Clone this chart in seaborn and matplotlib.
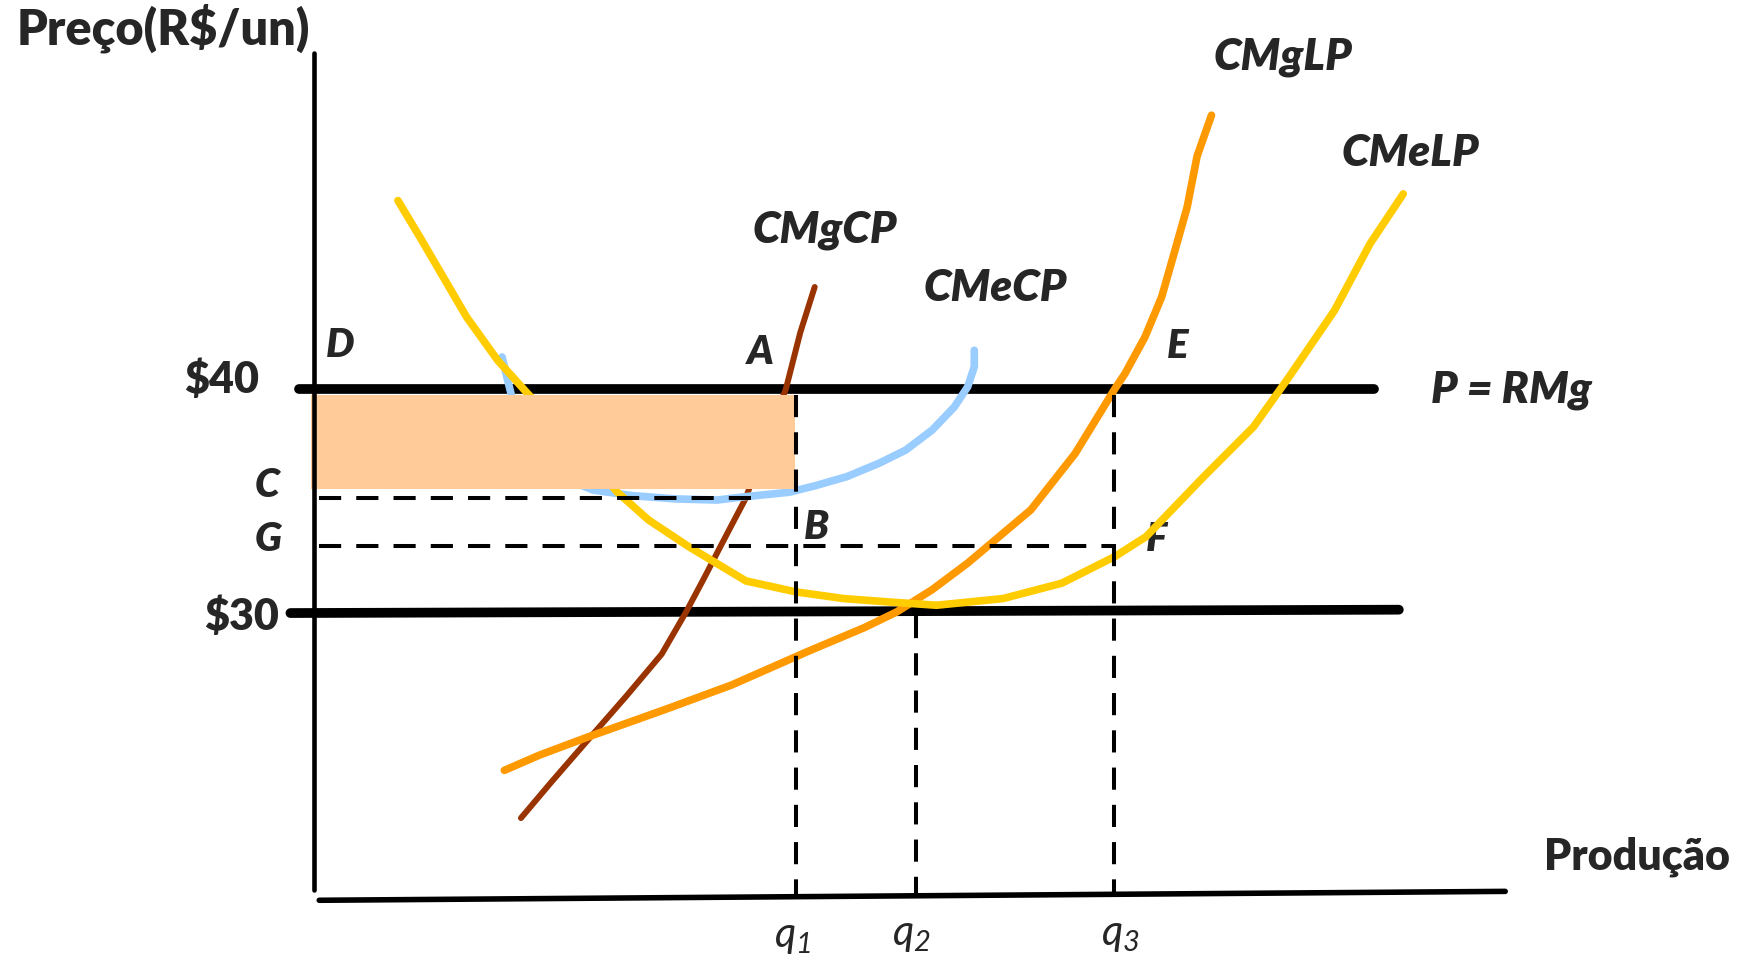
import numpy as np
import pandas as pd
import matplotlib.pyplot as plt
import seaborn as sns

# curves: quantity (q) and price (p)
cmgcp_q = [18.7, 21.4, 24.7, 28.2, 31.4, 33.6, 35.3, 36.7, 37.9, 39.0, 40.7, 42.6, 43.9, 45.2]
cmgcp_p = [20.75, 22.34, 24.23, 26.22, 28.11, 30.0, 31.59, 32.94, 34.08, 35.12, 37.56, 40.0, 42.54, 44.58]

cmecp_q = [17.0, 17.5, 17.8, 18.5, 19.9, 22.2, 25.2, 28.7, 32.7, 36.4, 38.9, 42.9, 45.3, 48.1,
           51.0, 53.4, 55.8, 57.8, 59.0, 59.6, 59.6]
cmecp_p = [41.44, 40.40, 39.80, 38.31, 37.06, 36.07, 35.47, 35.22, 35.07, 35.02, 35.17, 35.37, 35.67,
           36.07, 36.67, 37.26, 38.16, 39.20, 40.10, 41.00, 41.74]

cmglp_q = [17.2, 20.4, 24.7, 31.7, 37.7, 44.5, 49.7, 52.6, 55.8, 59.0, 64.7, 68.7, 72.2, 73.2,
           75.0, 76.5, 77.7, 78.8, 79.7, 81.0]
cmglp_p = [22.89, 23.58, 24.38, 25.62, 26.72, 28.21, 29.30, 30.0, 31.0, 32.19, 34.58, 37.11, 39.95,
           40.70, 42.34, 44.13, 46.22, 48.16, 50.45, 52.29]

cmelp_q = [7.6, 9.7, 13.8, 16.6, 19.3, 22.2, 24.7, 27.4, 30.2, 33.8, 39.0, 43.5, 47.8, 51.8, 56.2,
           62.2, 67.5, 72.3, 75.1, 80.3, 84.8, 88.0, 92.1, 95.3, 98.3]
cmelp_p = [48.46, 46.72, 43.23, 41.29, 39.80, 38.31, 36.92, 35.37, 34.13, 32.94, 31.39, 30.90, 30.60,
           30.45, 30.30, 30.60, 31.29, 32.49, 33.38, 36.07, 38.31, 40.55, 43.53, 46.52, 48.76]

# levels and quantities
price_hi = 40
price_lo = 30
c_level = 35.12
g_level = 32.94
q1, q2, q3 = 43.5, 54.3, 72.2
axis_bottom = 17.26
rect_q = [-0.2, 43.4]
rect_p = [35.52, 39.75]

curve_colors = {"cmgcp": "#993300", "cmecp": "#99CCFF", "cmglp": "#FF9900", "cmelp": "#FFCC00"}

sns.set_theme(style="white")
plt.rcParams['font.family'] = ['Lato', 'DejaVu Sans']
plt.rcParams['mathtext.fontset'] = 'custom'
plt.rcParams['mathtext.it'] = 'Lato:italic'
plt.rcParams['mathtext.rm'] = 'Lato:italic'

fig = plt.figure(figsize=(17.38, 9.6), dpi=100)
ax = fig.add_axes([0, 0, 1, 1])
ax.set_xlim(-28.3, 128.5)
ax.set_ylim(14.38, 57.46)
ax.axis('off')

# axes of the diagram
ax.plot([0, 0], [axis_bottom + 0.25, 55.07], color='black', lw=3.3, zorder=4)
ax.plot([0.5, 107.5], [17.06, 17.46], color='black', lw=4, zorder=4)

# price lines
ax.plot([-1.3, 95.7], [price_hi, price_hi], color='black', lw=7, zorder=1)
ax.plot([-2.1, 97.9], [29.95, 30.1], color='black', lw=7, zorder=1)

# cost curves
for q, p, key in [(cmgcp_q, cmgcp_p, "cmgcp"), (cmecp_q, cmecp_p, "cmecp"),
                  (cmglp_q, cmglp_p, "cmglp"), (cmelp_q, cmelp_p, "cmelp")]:
    df = pd.DataFrame({"q": q, "p": p})
    lw = 4.3 if key == "cmgcp" else 5.5
    sns.lineplot(data=df, x="q", y="p", sort=False, estimator=None, ax=ax,
                 color=curve_colors[key], lw=lw, solid_capstyle='round', zorder=2)

# profit rectangle
ax.fill_between(rect_q, rect_p[0], rect_p[1], color='#FFCC99', lw=0, zorder=3)

# dashed guides
dash = (5.5, 3.75)
ax.plot([0.5, 39.7], [c_level, c_level], color='black', lw=2.9, dashes=dash, zorder=4)
ax.plot([0.5, q3], [g_level, g_level], color='black', lw=2.9, dashes=dash, zorder=4)
ax.plot([q1, q1], [rect_p[1], axis_bottom], color='black', lw=2.9, dashes=dash, zorder=4)
ax.plot([q2, q2], [29.8, axis_bottom], color='black', lw=2.9, dashes=dash, zorder=4)
ax.plot([q3, q3], [rect_p[1], axis_bottom], color='black', lw=2.9, dashes=dash, zorder=4)

# texts
ax.text(-26.8, 55.47, "Preço(R$/un)", fontsize=35, fontweight='heavy', ha='left', va='baseline')
ax.text(119.4, 19.0, "Produção", fontsize=31, fontweight='heavy', ha='center', va='center')
ax.text(-8.35, 40.4, "$40", fontsize=31, fontweight='heavy', ha='center', va='center')
ax.text(-6.55, 29.8, "$30", fontsize=31, fontweight='heavy', ha='center', va='center')

point_labels = ["D", "A", "C", "G", "B", "E", "F"]
point_q = [2.4, 40.3, -4.2, -4.1, 45.4, 77.9, 76.0]
point_p = [41.94, 41.64, 35.67, 33.23, 33.78, 41.89, 33.23]
for lab, q, p in zip(point_labels, point_q, point_p):
    ax.text(q, p, lab, fontsize=29, fontweight='heavy', style='italic', ha='center', va='center',
            zorder=1.5)

curve_labels = ["CMgCP", "CMeCP", "CMgLP", "CMeLP", "P = RMg"]
curve_label_q = [46.1, 61.5, 87.4, 98.9, 108.1]
curve_label_p = [47.16, 44.53, 54.88, 50.6, 39.95]
for lab, q, p in zip(curve_labels, curve_label_q, curve_label_p):
    ax.text(q, p, lab, fontsize=32, fontweight='heavy', style='italic', ha='center', va='center')

q_labels = [r"$q_1$", r"$q_2$", r"$q_3$"]
q_label_q = [43.2, 53.9, 72.8]
q_label_p = [15.42, 15.52, 15.52]
for lab, q, p in zip(q_labels, q_label_q, q_label_p):
    ax.text(q, p, lab, fontsize=30, ha='center', va='center')

fig.savefig('out.png', dpi=100)
